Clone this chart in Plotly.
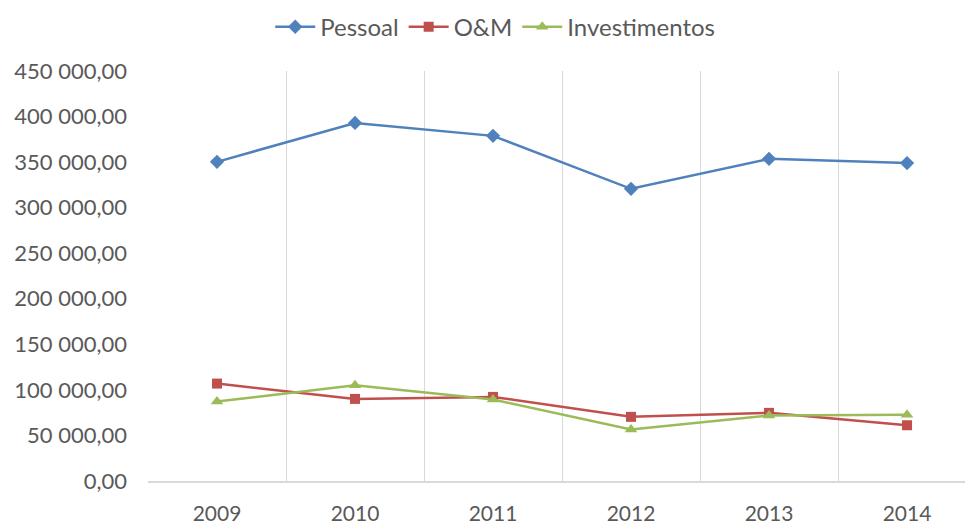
import plotly.graph_objects as go

years = [2009, 2010, 2011, 2012, 2013, 2014]
year_labels = ["2009", "2010", "2011", "2012", "2013", "2014"]
pessoal = [350300, 393000, 378800, 320700, 353600, 348900]
om = [106900, 90100, 92300, 70400, 74800, 61200]
investimentos = [87200, 105000, 89400, 56500, 71800, 72600]
y_ticks = [0, 50000, 100000, 150000, 200000, 250000, 300000, 350000, 400000, 450000]

fig = go.Figure()
fig.add_trace(go.Scatter(x=years, y=pessoal, name="Pessoal", mode="lines+markers",
                         line=dict(color="#4F81BD", width=2.5),
                         marker=dict(symbol="diamond", size=11, color="#4F81BD")))
fig.add_trace(go.Scatter(x=years, y=om, name="O&M", mode="lines+markers",
                         line=dict(color="#C0504D", width=2.5),
                         marker=dict(symbol="square", size=10, color="#C0504D")))
fig.add_trace(go.Scatter(x=years, y=investimentos, name="Investimentos", mode="lines+markers",
                         line=dict(color="#9BBB59", width=2.5),
                         marker=dict(symbol="triangle-up", size=11, color="#9BBB59")))

boundaries = [y - 0.5 for y in years] + [years[-1] + 0.5]

fig.update_layout(
    width=965, height=525,
    margin=dict(l=148, r=0, t=71, b=44, autoexpand=False),
    paper_bgcolor="white", plot_bgcolor="white",
    separators=", ",
    font=dict(family="Lato, Open Sans, sans-serif", color="#595959", size=22),
    showlegend=True,
    legend=dict(orientation="h", x=0.425, xanchor="center", y=1.107, yanchor="middle",
                font=dict(size=24, color="#595959"), itemwidth=40, tracegroupgap=0),
    xaxis=dict(range=[2008.5, 2014.42], tickvals=years, ticktext=year_labels, automargin=False,
               showgrid=False, zeroline=False, showline=True, linecolor="#d9d9d9", linewidth=1.5,
               ticks="", ticklabelstandoff=13, tickfont=dict(size=21),
               minor=dict(tickvals=boundaries, showgrid=True, gridcolor="#d9d9d9", gridwidth=1, ticks="")),
    yaxis=dict(range=[0, 450000], tickvals=y_ticks, tickformat=",.2f", automargin=False,
               showgrid=False, zeroline=False, showline=False, ticks="", ticklabelstandoff=20),
)

fig.write_html("out.html", config={"displayModeBar": False},
               post_script="document.body.style.margin='0';")
